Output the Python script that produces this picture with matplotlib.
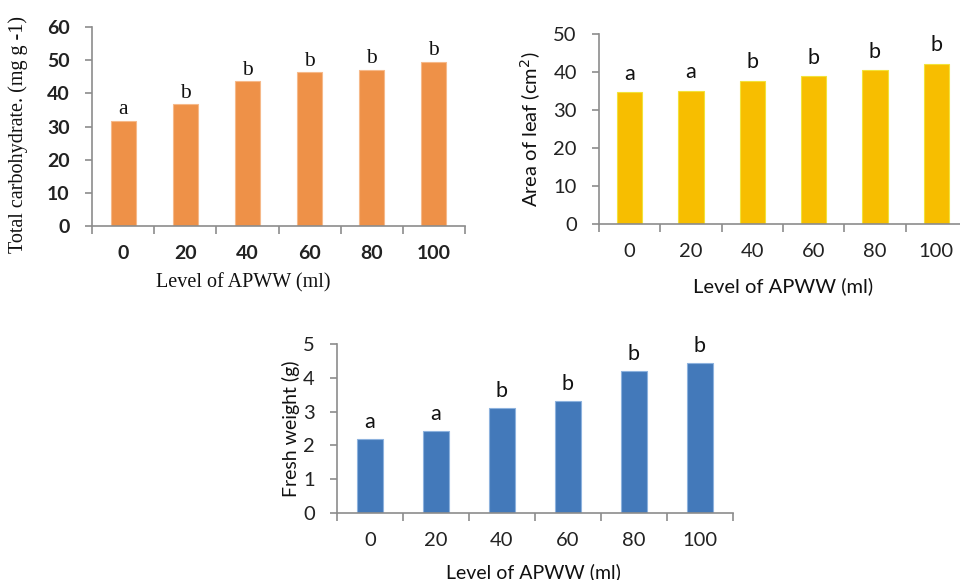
import matplotlib
matplotlib.use("Agg")
import matplotlib.pyplot as plt
import numpy as np

levels = ["0", "20", "40", "60", "80", "100"]
carbohydrate = [31.8, 36.8, 43.7, 46.4, 47.1, 49.5]
carb_letters = ["a", "b", "b", "b", "b", "b"]
leaf_area = [34.7, 35.1, 37.7, 38.9, 40.5, 42.2]
leaf_letters = ["a", "a", "b", "b", "b", "b"]
fresh_weight = [2.20, 2.44, 3.10, 3.31, 4.21, 4.43]
fresh_letters = ["a", "a", "b", "b", "b", "b"]

W, H = 960, 580
fig = plt.figure(figsize=(9.6, 5.8), dpi=100)
AX_COL = "#8c8c8c"


def rect(l, t, w, h):
    return [l / W, 1 - (t + h) / H, w / W, h / H]


def style(ax, ymax, ystep, tickfont, tickweight, fs):
    n = len(levels)
    x = np.arange(n)
    ax.set_xlim(-0.5, n - 0.5)
    ax.set_ylim(0, ymax)
    ax.set_yticks(np.arange(0, ymax + 0.001, ystep))
    ax.set_xticks(x)
    ax.set_xticklabels(levels)
    ax.set_xticks(np.arange(-0.5, n, 1.0), minor=True)
    for s in ["top", "right"]:
        ax.spines[s].set_visible(False)
    for s in ["left", "bottom"]:
        ax.spines[s].set_color(AX_COL)
        ax.spines[s].set_linewidth(1.2)
    ax.tick_params(axis="x", which="major", length=0, pad=14)
    ax.tick_params(axis="x", which="minor", length=6, color=AX_COL, width=1.2, direction="out")
    ax.tick_params(axis="y", length=5, color=AX_COL, width=1.2, pad=11)
    for lab in ax.get_xticklabels() + ax.get_yticklabels():
        lab.set_family(tickfont)
        lab.set_weight(tickweight)
        lab.set_fontsize(fs)
        lab.set_color("#222222")
    return x


# Chart 1: total carbohydrate
ax1 = fig.add_axes(rect(92, 27, 373, 199))
x = style(ax1, 60, 10, "Lato", "bold", 14)
ax1.bar(x, carbohydrate, width=0.4, color="#EE9148", edgecolor="#F6B98A", linewidth=0.8)
for xi, v, t in zip(x, carbohydrate, carb_letters):
    ax1.annotate(t, (xi, v), xytext=(0, 1), textcoords="offset points", ha="center",
                 va="bottom", family="Liberation Serif", fontsize=15.5, color="#111111")
ax1.set_ylabel("Total carbohydrate. (mg g -1)", family="Liberation Serif", fontsize=14.5, color="#111111")
ax1.yaxis.set_label_coords(-0.172, 0.46)
ax1.set_xlabel("Level of APWW (ml)", family="Liberation Serif", fontsize=14.5, color="#111111")
ax1.xaxis.set_label_coords(0.405, -0.236)

# Chart 2: leaf area
ax2 = fig.add_axes(rect(599, 34, 368, 190))
x = style(ax2, 50, 10, "Lato", "normal", 14.5)
ax2.bar(x, leaf_area, width=0.41, color="#F7BE00", edgecolor="#F2E23A", linewidth=0.8)
for xi, v, t in zip(x, leaf_area, leaf_letters):
    ax2.annotate(t, (xi, v), xytext=(0, 6), textcoords="offset points", ha="center",
                 va="bottom", family="Lato", fontsize=15.5, color="#111111")
ax2.set_ylabel("Area of leaf (cm$^{2}$)", family="Lato", fontsize=14.5, color="#111111")
ax2.yaxis.set_label_coords(-0.152, 0.5)
ax2.set_xlabel("Level of APWW (ml)", family="Lato", fontsize=14.5, color="#111111")
ax2.xaxis.set_label_coords(0.5, -0.279)

# Chart 3: fresh weight
ax3 = fig.add_axes(rect(337, 344, 396, 169))
x = style(ax3, 5, 1, "Lato", "normal", 14.5)
ax3.bar(x, fresh_weight, width=0.39, color="#4379BA", edgecolor="#8DB2DE", linewidth=0.8)
for xi, v, t in zip(x, fresh_weight, fresh_letters):
    ax3.annotate(t, (xi, v), xytext=(0, 5), textcoords="offset points", ha="center",
                 va="bottom", family="Lato", fontsize=15.5, color="#111111")
ax3.set_ylabel("Fresh weight (g)", family="Lato", fontsize=14, color="#111111")
ax3.yaxis.set_label_coords(-0.093, 0.5)
ax3.set_xlabel("Level of APWW (ml)", family="Lato", fontsize=14, color="#111111")
ax3.xaxis.set_label_coords(0.495, -0.300)

fig.savefig("out.png", dpi=100, facecolor="white")
